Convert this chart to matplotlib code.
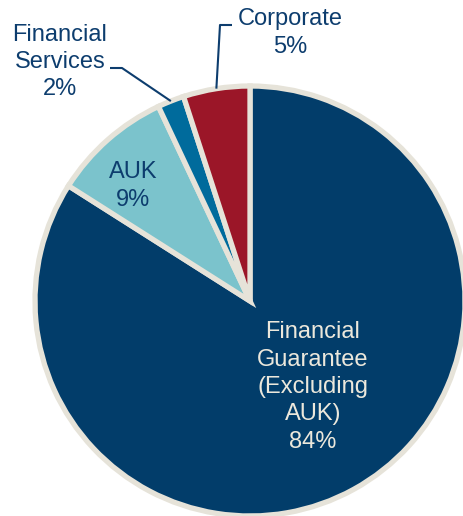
import numpy as np
import matplotlib.pyplot as plt

labels = ["Financial\nGuarantee\n(Excluding\nAUK)", "AUK", "Financial\nServices", "Corporate"]
shares = [84, 9, 2, 5]
colors = ["#023d6a", "#7bc3cc", "#006b9c", "#9b1628"]
edge = "#e6e3d9"
navy_text = "#0d3d6e"

W, H = 464, 516
fig = plt.figure(figsize=(W / 100, H / 100), dpi=100)
ax = fig.add_axes([0, 0, 1, 1])

cx, cy, R = 250, 215, 215
wedges, _ = ax.pie(shares, colors=colors, startangle=90, counterclock=False,
                   center=(cx, cy), radius=R, frame=True,
                   wedgeprops=dict(edgecolor=edge, linewidth=3.8))
ax.set_xlim(0, W)
ax.set_ylim(0, H)
ax.set_aspect("equal")
ax.axis("off")

font = dict(family=["Liberation Sans", "DejaVu Sans"], fontsize=17)
LS = 1.32

def mid_point(w, frac=1.0):
    a = np.deg2rad((w.theta1 + w.theta2) / 2)
    return cx + R * frac * np.cos(a), cy + R * frac * np.sin(a)

# Inside labels
ax.text(313, H - 387, f"{labels[0]}\n{shares[0]}%", ha="center", va="center",
        color="#ece8dc", linespacing=LS, **font)
ax.text(133, H - 186, f"{labels[1]}\n{shares[1]}%", ha="center", va="center",
        color=navy_text, linespacing=LS, **font)

# Outside labels with leader lines
x0, y0 = mid_point(wedges[2])
ax.plot([x0, 122, 110], [y0, H - 68, H - 68], color=navy_text, lw=1.5,
        solid_capstyle="butt")
ax.text(60, H - 62, f"{labels[2]}\n{shares[2]}%", ha="center", va="center",
        color=navy_text, linespacing=LS, **font)

x1, y1 = mid_point(wedges[3])
ax.plot([x1, 220, 232], [y1, H - 25, H - 25], color=navy_text, lw=1.5,
        solid_capstyle="butt")
ax.text(290, H - 33, f"{labels[3]}\n{shares[3]}%", ha="center", va="center",
        color=navy_text, linespacing=LS, **font)

fig.savefig("out.png", dpi=100)
